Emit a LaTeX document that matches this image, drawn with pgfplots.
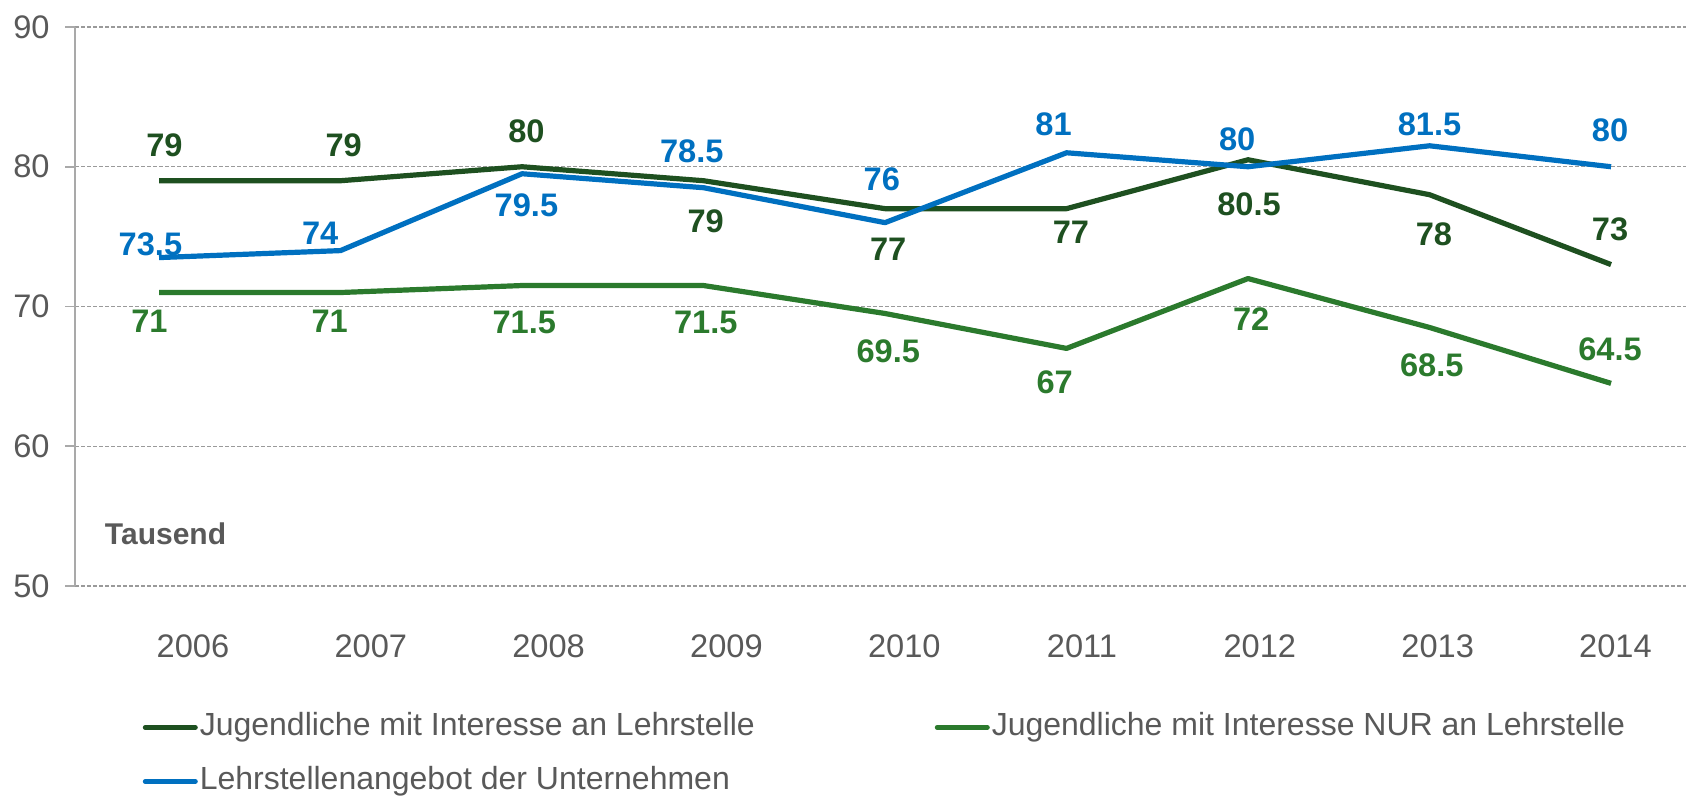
\documentclass[border=0pt]{standalone}
\usepackage{pgfplots}
\pgfplotsset{compat=1.18}
\usepackage{pgfplotstable}
\usepackage{fontspec}
\setmainfont{Liberation Sans}

\definecolor{dkgreen}{HTML}{1E5020}
\definecolor{mdgreen}{HTML}{2B7A2D}
\definecolor{lblue}{HTML}{0070C0}
\definecolor{txtgray}{HTML}{595959}
\definecolor{gridgray}{HTML}{9A9A9A}

% x, value, label offset dx/dy in pt
\pgfplotstableread{
x    y    dx    dy
2006 79   2.7   17.8
2007 79   1.6   17.8
2008 80   2.2   17.8
2009 79   1.1  -20.4
2010 77   1.6  -20.4
2011 77   2.2  -11.8
2012 80.5 0.5  -22.1
2013 78   2.2  -19.9
2014 73  -0.5   17.8
}\interesse
\pgfplotstableread{
x    y    dx    dy
2006 71   -4.8 -14.5
2007 71   -5.4 -14.5
2008 71.5  1.1 -18.3
2009 71.5  1.1 -18.3
2010 69.5  1.6 -18.8
2011 67   -5.9 -16.7
2012 72    1.6 -20.4
2013 68.5  1.1 -18.8
2014 64.5 -0.5  17.2
}\nurlehre
\pgfplotstableread{
x    y    dx    dy
2006 73.5  -4.3   6.5
2007 74   -10.2   8.6
2008 79.5   2.2 -15.6
2009 78.5  -5.9  18.3
2010 76    -1.6  21.5
2011 81    -6.5  14.0
2012 80    -5.4  13.5
2013 81.5   0.0  10.8
2014 80    -0.5  18.3
}\angebot

\pgfplotsset{
  lbl/.style={
    nodes near coords,
    visualization depends on={\thisrow{dx}\as\dx},
    visualization depends on={\thisrow{dy}\as\dy},
    every node near coord/.append style={anchor=center, inner sep=0pt,
      xshift={\dx pt}, yshift={\dy pt},
      font=\bfseries\fontsize{16.3}{19}\selectfont, text=#1},
  },
}

\begin{document}
\begin{tikzpicture}
\begin{axis}[
  at={(0,0)}, anchor=south west,
  scale only axis, width=805.5pt, height=279.5pt,
  xmin=2005.537, xmax=2014.413, ymin=50, ymax=90,
  % year labels sit slightly right of the data points, as in the source
  xtick={2006.187,2007.167,2008.146,2009.126,2010.106,2011.085,2012.065,2013.045,2014.024},
  xticklabels={2006,2007,2008,2009,2010,2011,2012,2013,2014},
  ytick={50,60,...,90},
  /pgf/number format/assume math mode=true,
  /pgf/number format/1000 sep={},
  ticklabel style={font=\fontsize{16.3}{19}\selectfont, text=txtgray},
  xticklabel style={yshift=-16pt},
  yticklabel style={xshift=-4.2pt},
  axis y line*=left, axis x line*=bottom,
  x axis line style={draw=none},
  y axis line style={draw=gridgray!85, line width=0.8pt},
  xtick style={draw=none},
  ytick style={draw=gridgray!85, line width=0.8pt},
  tick align=outside, major tick length=5pt,
  ymajorgrids,
  grid style={gridgray, line width=0.7pt, dash pattern=on 2pt off 1pt},
  clip=false,
  legend columns=2,
  legend cell align=left,
  legend style={draw=none, fill=none, at={(rel axis cs:0,0)}, anchor=north west,
    xshift=30.7pt, yshift=-60pt,
    font=\fontsize{16}{19}\selectfont, text=txtgray,
    row sep=10pt,
    /tikz/every even column/.append style={column sep=89pt},
    nodes={inner sep=1pt, text height=11.5pt, text depth=3.5pt}},
  legend image code/.code={\draw[#1, line width=2.5pt, line cap=round] (0pt,0pt) -- (25pt,0pt);},
]
\addplot[dkgreen, line width=2.6pt, line join=round, lbl=dkgreen] table[x=x, y=y] {\interesse};
\addlegendentry{Jugendliche mit Interesse an Lehrstelle}
\addplot[mdgreen, line width=2.6pt, line join=round, lbl=mdgreen] table[x=x, y=y] {\nurlehre};
\addlegendentry{Jugendliche mit Interesse NUR an Lehrstelle}
\addplot[lblue, line width=2.6pt, line join=round, lbl=lblue] table[x=x, y=y] {\angebot};
\addlegendentry{Lehrstellenangebot der Unternehmen}

\node[anchor=west, inner sep=0pt, font=\bfseries\fontsize{15}{18}\selectfont, text=txtgray]
  at (axis cs:2005.70,53.72) {Tausend};
\end{axis}
\pgfresetboundingbox
\path[use as bounding box] (-37.5pt,-105pt) rectangle (805.5pt,293pt);
\end{tikzpicture}
\end{document}
